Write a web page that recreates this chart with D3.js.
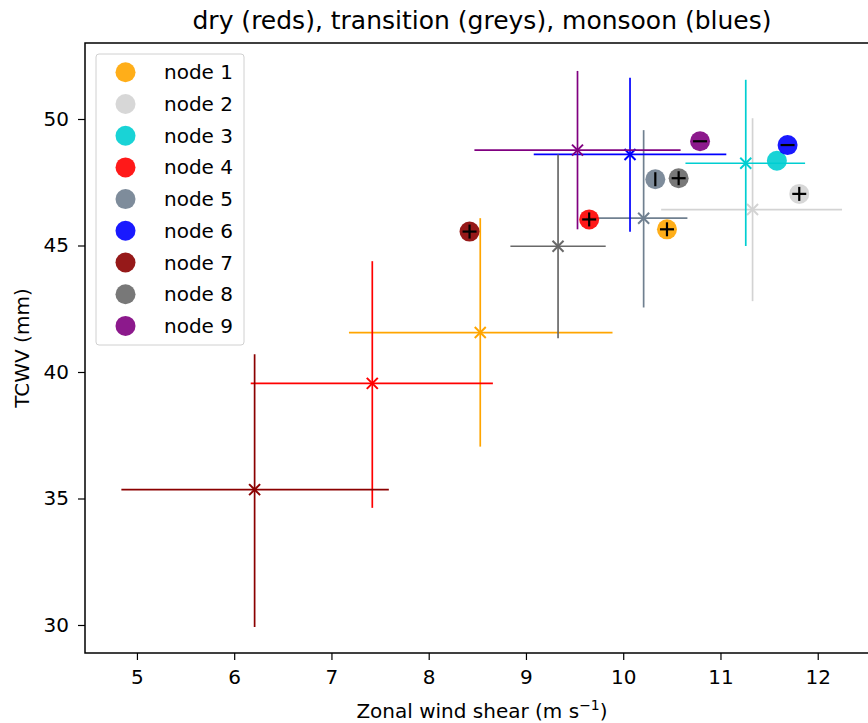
<!DOCTYPE html>
<html>
<head>
<meta charset="utf-8">
<script src="https://cdn.jsdelivr.net/npm/d3@7"></script>
<style>
  body { margin: 0; background: #fff; }
  svg { display: block; font-family: "DejaVu Sans", sans-serif; }
</style>
</head>
<body>
<svg id="chart" width="868" height="723"></svg>
<script>
const nodes = ["node 1","node 2","node 3","node 4","node 5","node 6","node 7","node 8","node 9"];
const colors = ["orange","lightgrey","darkturquoise","red","slategrey","blue","darkred","dimgrey","purple"];
// error-bar centres (x marker) and extents
const meanX = [8.53, 11.33, 11.26, 7.42, 10.21, 10.07, 6.21, 9.33, 9.53];
const meanY = [41.56, 46.42, 48.25, 39.55, 46.08, 48.60, 35.35, 44.97, 48.77];
const xLo = [7.18, 10.39, 10.64, 6.17, 9.62, 9.08, 4.84, 8.84, 8.47];
const xHi = [9.89, 12.25, 11.87, 8.66, 10.66, 11.06, 7.59, 9.82, 10.59];
const yLo = [37.05, 42.80, 44.98, 34.63, 42.55, 45.54, 29.92, 41.33, 45.64];
const yHi = [46.08, 50.03, 51.55, 44.38, 49.56, 51.63, 40.70, 48.60, 51.90];
// circle positions and their overlaid marker
const circX = [10.45, 11.81, 11.58, 9.65, 10.33, 11.69, 8.42, 10.57, 10.79];
const circY = [45.64, 47.04, 48.35, 46.03, 47.62, 48.97, 45.55, 47.66, 49.12];
const circMark = ["+", "+", "", "+", "|", "-", "+", "+", "-"];
const xTicks = [5,6,7,8,9,10,11,12];
const yTicks = [30,35,40,45,50];

const svg = d3.select("#chart");
const L = 85, R = 879, T = 43, B = 653;
const x = d3.scaleLinear().domain([4.466, 12.63]).range([L, R]);
const y = d3.scaleLinear().domain([28.893, 53.004]).range([B, T]);

// title
svg.append("text").attr("x", (L+R)/2).attr("y", 29).attr("text-anchor","middle")
  .attr("font-size", 25).attr("fill","#000").text("dry (reds), transition (greys), monsoon (blues)");

// axes
const xa = svg.append("g").attr("transform",`translate(0,${B})`)
  .call(d3.axisBottom(x).tickValues(xTicks).tickSize(7).tickPadding(10).tickFormat(d3.format("d")));
const ya = svg.append("g").attr("transform",`translate(${L},0)`)
  .call(d3.axisLeft(y).tickValues(yTicks).tickSize(7).tickPadding(9).tickFormat(d3.format("d")));
[xa, ya].forEach(g => {
  g.selectAll("text").attr("font-size", 20).attr("fill","#000").attr("font-family","DejaVu Sans");
  g.selectAll("line").attr("stroke","#000").attr("stroke-width",1.2);
  g.select(".domain").remove();
});
// spines
svg.append("rect").attr("x", L).attr("y", T).attr("width", R-L).attr("height", B-T)
  .attr("fill","none").attr("stroke","#000").attr("stroke-width",1.5);

// axis labels
const xl = svg.append("text").attr("x",(L+R)/2).attr("y",718).attr("text-anchor","middle")
  .attr("font-size",20).attr("fill","#000");
xl.append("tspan").text("Zonal wind shear (m s");
xl.append("tspan").attr("dy",-8).attr("font-size",14).text("\u22121");
xl.append("tspan").attr("dy",8).text(")");
svg.append("text").attr("transform",`translate(29,${(T+B)/2}) rotate(-90)`)
  .attr("text-anchor","middle").attr("font-size",20).attr("fill","#000").text("TCWV (mm)");

const plot = svg.append("g");
const idx = d3.range(nodes.length);

// error bars
idx.forEach(i => {
  const g = plot.append("g").attr("stroke", colors[i]).attr("stroke-width", 1.7);
  g.append("line").attr("x1", x(xLo[i])).attr("x2", x(xHi[i])).attr("y1", y(meanY[i])).attr("y2", y(meanY[i]));
  g.append("line").attr("x1", x(meanX[i])).attr("x2", x(meanX[i])).attr("y1", y(yLo[i])).attr("y2", y(yHi[i]));
  const s = 5.5, cx = x(meanX[i]), cy = y(meanY[i]);
  g.append("line").attr("x1", cx-s).attr("x2", cx+s).attr("y1", cy-s).attr("y2", cy+s).attr("stroke-width",2);
  g.append("line").attr("x1", cx-s).attr("x2", cx+s).attr("y1", cy+s).attr("y2", cy-s).attr("stroke-width",2);
});

// circles
plot.selectAll("circle.pt").data(idx).join("circle").attr("class","pt")
  .attr("cx", i => x(circX[i])).attr("cy", i => y(circY[i])).attr("r", 10)
  .attr("fill", i => colors[i]).attr("fill-opacity", 0.9);

// black markers on circles
idx.forEach(i => {
  const m = circMark[i]; if (!m) return;
  const cx = x(circX[i]), cy = y(circY[i]), s = 7;
  const g = plot.append("g").attr("stroke","#000").attr("stroke-width",2.2);
  if (m === "+" || m === "-") g.append("line").attr("x1",cx-s).attr("x2",cx+s).attr("y1",cy).attr("y2",cy);
  if (m === "+" || m === "|") g.append("line").attr("x1",cx).attr("x2",cx).attr("y1",cy-s).attr("y2",cy+s);
});

// legend
const lg = svg.append("g");
lg.append("rect").attr("x",96).attr("y",54).attr("width",148).attr("height",291).attr("rx",3)
  .attr("fill","#fff").attr("fill-opacity",0.8).attr("stroke","#d0d0d0").attr("stroke-width",1);
idx.forEach(i => {
  const yy = 72.3 + i*31.7;
  lg.append("circle").attr("cx",125.5).attr("cy",yy).attr("r",10).attr("fill",colors[i]).attr("fill-opacity",0.9);
  lg.append("text").attr("x",164).attr("y",yy+7).attr("font-size",20).attr("fill","#000").text(nodes[i]);
});
</script>
</body>
</html>
